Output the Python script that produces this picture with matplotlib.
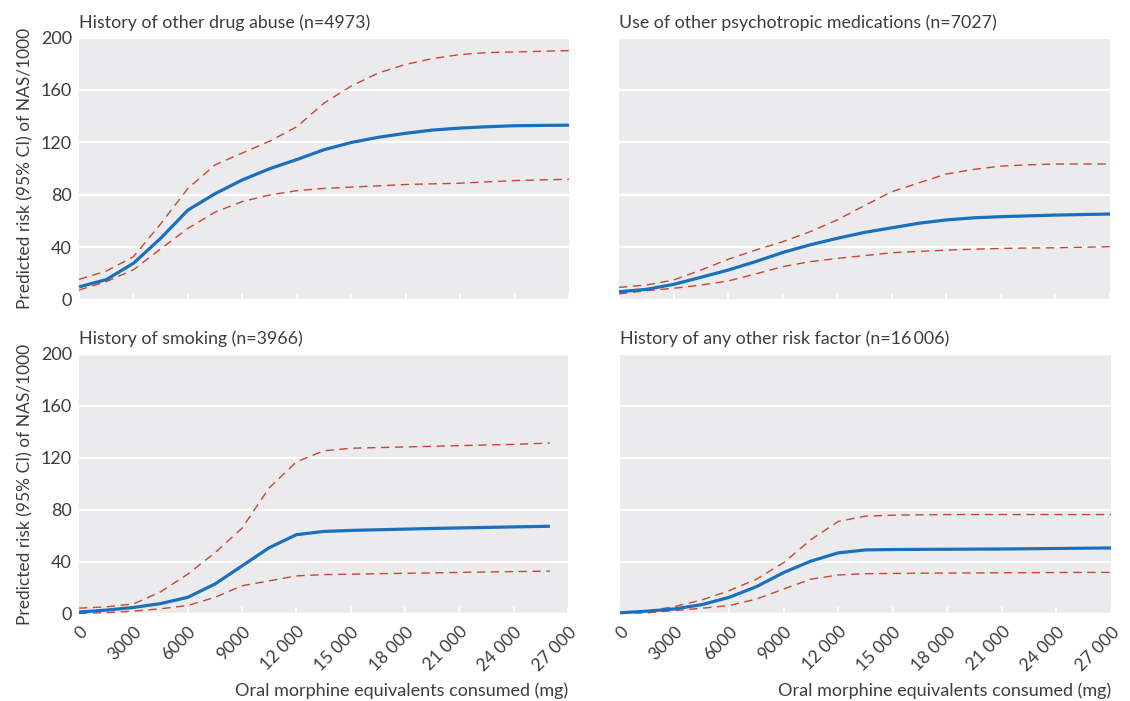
import matplotlib
matplotlib.use("Agg")
import matplotlib.pyplot as plt

plt.rcParams['font.family'] = ['Lato', 'DejaVu Sans']

# ---- data (x in mg) ----
x_full = [0, 1500, 3000, 4500, 6000, 7500, 9000, 10500, 12000, 13500, 15000,
          16500, 18000, 19500, 21000, 22500, 24000, 25500, 27000]
x_smoke = [0, 1500, 3000, 4500, 6000, 7500, 9000, 10500, 12000, 13500, 15000,
           16500, 18000, 19500, 21000, 22500, 24000, 26000]

drug_mean = [10, 15.5, 28, 47, 68.5, 81, 91.5, 100, 107, 114.5, 120, 124, 127, 129.5, 131, 132, 132.8, 133, 133.2]
drug_upper = [15.7, 22, 33, 58, 85, 103, 112, 121, 132, 150, 163, 173, 179.5, 184, 187, 188.5, 189, 189.5, 190]
drug_lower = [7.6, 14, 23, 39, 54.6, 67, 75, 80, 83.3, 85, 86, 87, 88, 88.5, 89, 90, 91, 91.5, 92]

psy_mean = [6.3, 8.1, 11.9, 17.3, 22.8, 29.2, 36.2, 42, 47, 51.5, 55, 58.5, 61, 62.6, 63.5, 64.1, 64.7, 65.1, 65.5]
psy_upper = [9.6, 11.4, 15.2, 22.8, 31, 38, 44.4, 52, 61, 72, 82.5, 89.3, 96, 99.5, 102, 103, 103.6, 103.6, 103.6]
psy_lower = [4.6, 7.1, 8.9, 11.4, 14.5, 19.8, 25.4, 29.2, 31.7, 33.8, 36, 37, 38, 38.7, 39.3, 39.6, 39.8, 40.2, 40.6]

smoke_mean = [1.5, 3, 5, 8, 12.8, 23, 37, 51, 61, 63.5, 64.3, 64.8, 65.3, 65.8, 66.2, 66.6, 67, 67.5]
smoke_upper = [4.5, 5.5, 7.7, 17, 30.6, 47, 66, 97, 117, 125.5, 127.5, 128, 128.5, 129, 129.5, 130, 130.5, 131.5]
smoke_lower = [0.5, 1, 2.2, 4, 6.5, 12.8, 21.7, 25.5, 29.3, 30.3, 30.6, 31, 31.3, 31.6, 32, 32.3, 32.6, 33]

other_mean = [0.9, 2.2, 3.9, 7.2, 12.8, 21, 31.9, 40.7, 47, 49.3, 49.6, 49.7, 49.8, 49.9, 50, 50.2, 50.4, 50.6, 50.8]
other_upper = [1.4, 2.2, 5.7, 10.8, 17.9, 26.8, 39.5, 57.2, 71.2, 75.3, 76, 76.3, 76.5, 76.5, 76.5, 76.5, 76.5, 76.5, 76.5]
other_lower = [0.6, 0.9, 2.7, 4.4, 6.5, 11.5, 19.2, 26.8, 30, 31, 31.2, 31.4, 31.5, 31.6, 31.7, 31.8, 31.9, 32, 32]

titles = ["History of other drug abuse (n=4973)",
          "Use of other psychotropic medications (n=7027)",
          "History of smoking (n=3966)",
          "History of any other risk factor (n=16\u2009006)"]
xticks = [0, 3000, 6000, 9000, 12000, 15000, 18000, 21000, 24000, 27000]
xtick_labels = ["0", "3000", "6000", "9000", "12 000", "15 000", "18 000", "21 000", "24 000", "27 000"]
yticks = [0, 40, 80, 120, 160, 200]
ylabel = "Predicted risk (95% CI) of NAS/1000"
xlabel = "Oral morphine equivalents consumed (mg)"

panels = [
    (x_full, drug_mean, drug_upper, drug_lower),
    (x_full, psy_mean, psy_upper, psy_lower),
    (x_smoke, smoke_mean, smoke_upper, smoke_lower),
    (x_full, other_mean, other_upper, other_lower),
]

BG = "#ebebed"
BLUE = "#1a6fbe"
RED = "#c9472f"
TXT = "#3d3d3d"

fig = plt.figure(figsize=(11.30, 7.01), dpi=100)
W, H = 1130, 701
boxes = [(79, 569, 37.5, 300), (619, 1110, 37.5, 300),
         (79, 568, 354, 614), (620, 1111, 354, 614)]

for i, ((l, r, t, b), (xs, m, u, lo)) in enumerate(zip(boxes, panels)):
    ax = fig.add_axes([l / W, 1 - b / H, (r - l) / W, (b - t) / H])
    ax.set_facecolor(BG)
    for s in ax.spines.values():
        s.set_visible(False)
    ax.set_xlim(0, 27000)
    ax.set_ylim(0, 200)
    ax.set_yticks(yticks)
    ax.set_xticks(xticks)
    ax.grid(axis='y', color='white', linewidth=1.6)
    ax.set_axisbelow(True)
    ax.tick_params(axis='x', direction='in', length=5, width=1.2, color='white', pad=7,
                   labelsize=12.5, labelcolor=TXT)
    ax.tick_params(axis='y', length=0, pad=5, labelsize=13, labelcolor=TXT)
    if i % 2 == 1:
        ax.set_yticklabels([])
    else:
        ax.set_ylabel(ylabel, fontsize=12.5, color=TXT, labelpad=5)
    if i < 2:
        ax.set_xticklabels([])
    else:
        ax.set_xticklabels(xtick_labels, rotation=45, ha='right', rotation_mode='anchor')
        fig.text(r / W, 1 - 691 / H, xlabel, ha='right', va='center',
                 fontsize=13, color=TXT)
    ax.plot(xs, u, color=RED, lw=1.0, dashes=(6, 4), clip_on=False)
    ax.plot(xs, lo, color=RED, lw=1.0, dashes=(6, 4), clip_on=False)
    ax.plot(xs, m, color=BLUE, lw=2.3, clip_on=False, solid_capstyle='butt')
    ax.text(0, 1.025, titles[i], transform=ax.transAxes, ha='left', va='bottom',
            fontsize=12.8, color=TXT)

fig.savefig("out.png", dpi=100)
